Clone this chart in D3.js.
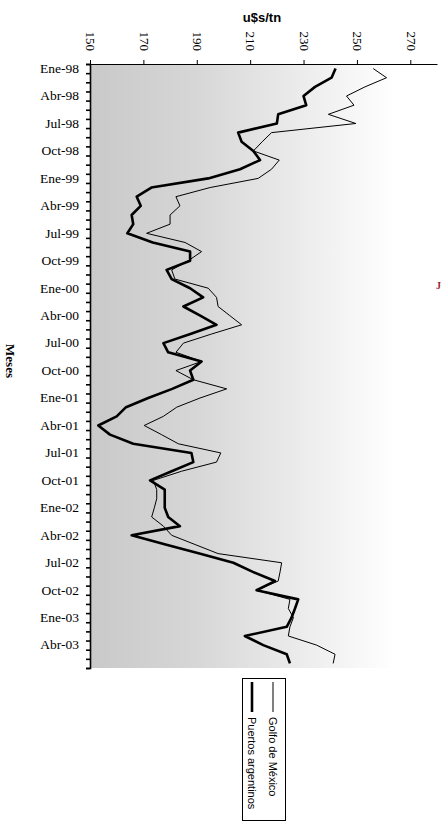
<!DOCTYPE html>
<html>

<head>
  <title>u$s/tn</title>
  <script src="https://cdn.jsdelivr.net/npm/d3@7"></script>
  <style>
    body { margin: 0; background: #fff; }
    .serif { font-family: 'Liberation Serif', 'Times New Roman', serif; }
    .sans { font-family: 'Liberation Sans', Arial, sans-serif; }
  </style>
</head>

<body>
  <svg width="442" height="822" id="mainsvg"></svg>

  <script>
    // meses, de Ene-98 a Jun-03
    const monthNames = ['Ene', 'Feb', 'Mar', 'Abr', 'May', 'Jun', 'Jul', 'Ago', 'Sep', 'Oct', 'Nov', 'Dic'];
    const years = ['98', '99', '00', '01', '02', '03'];
    const months = [];
    years.forEach(yy => monthNames.forEach((m, i) => {
      if (!(yy === '03' && i > 5)) months.push(m + '-' + yy);
    }));

    // Golfo de México (linea fina)
    const golfo = [256.1, 261.1, 253, 246.1, 248.9, 239.3, 249.6, 218, 214.5, 211.2, 220.9, 218,
      213, 195, 182.2, 183.7, 180, 180, 171.2, 185.6, 191.8, 186.8, 180.6, 181.8,
      194.3, 197.4, 198, 202.4, 206.8, 195.6, 185, 182.2, 191.8, 182.2, 188.7, 201.2,
      191.2, 182.5, 177.5, 170.3, 176.8, 183.1, 199, 197.4, 184.3, 173.7, 175, 175,
      174.1, 173.1, 177.5, 180.6, 189.3, 198, 221.8, 221.2, 220.5, 212.4, 224.9, 224.3,
      226.2, 224.9, 224.3, 234.9, 241.8, 241.1];

    // Puertos argentinos (linea gruesa)
    const puertos = [242, 240.5, 234.3, 230, 231, 220.5, 220, 205.5, 206.8, 211.2, 213.7, 206.2,
      194.3, 173, 167.5, 169, 165.6, 166.2, 164, 173.5, 187.5, 187.5, 178.7, 180.6,
      187.5, 192.4, 185, 191.3, 197.4, 187.6, 177.5, 179.3, 191.8, 187.5, 188.7, 180.8,
      171.8, 163.5, 160, 153.1, 157.5, 166.2, 188, 188.7, 180.6, 172.5, 178, 178,
      178, 179.3, 183.7, 165.6, 178.3, 191, 203.7, 211, 219.3, 212.4, 228, 226.8,
      225.5, 223.7, 208, 214.9, 223.7, 224.9];

    const valueTicks = [150, 170, 190, 210, 230, 250, 270];
    const monthTicks = months.filter((m, i) => i % 3 === 0);

    const svg = d3.select('#mainsvg');
    const plot = { left: 90, right: 437, top: 64, bottom: 668 };

    const xScale = d3.scaleLinear().domain([150, 280]).range([plot.left, plot.right]);
    const yScale = d3.scaleBand().domain(months).range([plot.top, plot.bottom]).padding(0);
    const yEdge = d3.scaleLinear().domain([0, months.length]).range([plot.top, plot.bottom]); // bordes de cada mes

    // fondo degradado
    const grad = svg.append('defs').append('linearGradient').attr('id', 'bg')
      .attr('x1', '0%').attr('x2', '100%').attr('y1', '0%').attr('y2', '0%');
    grad.append('stop').attr('offset', '0%').attr('stop-color', '#c9c9c9');
    grad.append('stop').attr('offset', '30%').attr('stop-color', '#d6d6d6');
    grad.append('stop').attr('offset', '88%').attr('stop-color', '#ffffff');
    svg.append('rect').attr('x', plot.left).attr('y', plot.top)
      .attr('width', plot.right - plot.left).attr('height', plot.bottom - plot.top).attr('fill', 'url(#bg)');

    // eje superior (valores)
    const xAxisGroup = svg.append('g').attr('transform', `translate(0, ${plot.top})`)
      .call(d3.axisTop(xScale).tickValues(valueTicks).tickSize(4).tickSizeOuter(0));
    xAxisGroup.attr('font-family', null);
    xAxisGroup.select('.domain').attr('stroke', '#000');
    xAxisGroup.selectAll('.tick text').attr('class', 'serif')
      .attr('font-size', 13).attr('fill', '#000')
      .attr('text-anchor', 'end').attr('dy', '0.32em')
      .attr('transform', 'translate(0, -13) rotate(90)').attr('x', 0).attr('y', 0);

    // eje izquierdo: marcas en cada mes
    const yTickGroup = svg.append('g').attr('transform', `translate(${plot.left}, 0)`)
      .call(d3.axisLeft(yEdge).tickValues(d3.range(months.length + 1)).tickSize(4).tickFormat(''));
    yTickGroup.selectAll('line').attr('stroke-width', 1.6);
    yTickGroup.select('.domain').attr('stroke-width', 1.6);

    // etiquetas cada tres meses
    const yLabelGroup = svg.append('g').attr('transform', `translate(${plot.left}, 0)`)
      .call(d3.axisLeft(yScale).tickValues(monthTicks).tickSize(0).tickPadding(11));
    yLabelGroup.attr('font-family', null);
    yLabelGroup.select('.domain').remove();
    yLabelGroup.selectAll('.tick text').attr('class', 'serif')
      .attr('font-size', 13.5).attr('fill', '#000');

    // lineas
    const yMid = m => yScale(m) + yScale.bandwidth() / 2;
    const line = d3.line().x(d => xScale(d.v)).y(d => yMid(d.m));

    svg.append('path').datum(months.map((m, i) => ({ m: m, v: golfo[i] })))
      .attr('d', line).attr('fill', 'none').attr('stroke', '#000').attr('stroke-width', 1)
      .attr('stroke-linejoin', 'round');
    svg.append('path').datum(months.map((m, i) => ({ m: m, v: puertos[i] })))
      .attr('d', line).attr('fill', 'none').attr('stroke', '#000').attr('stroke-width', 2.6)
      .attr('stroke-linejoin', 'round');

    // titulos de ejes
    svg.append('text').text('u$s/tn').attr('class', 'sans')
      .attr('x', 262).attr('y', 22).attr('text-anchor', 'middle')
      .attr('font-weight', 'bold').attr('font-size', 13);

    svg.append('text').text('Meses').attr('class', 'serif')
      .attr('transform', 'translate(6, 361) rotate(90)').attr('text-anchor', 'middle')
      .attr('font-weight', 'bold').attr('font-size', 13);

    // leyenda (girada)
    const legend = svg.append('g');
    legend.append('rect').attr('x', 242.5).attr('y', 678.5).attr('width', 43).attr('height', 142)
      .attr('fill', '#fff').attr('stroke', '#000').attr('stroke-width', 1);
    const items = [{ name: 'Golfo de México', x: 273, w: 1 }, { name: 'Puertos argentinos', x: 252, w: 2.6 }];
    items.forEach(it => {
      legend.append('line').attr('x1', it.x).attr('x2', it.x).attr('y1', 682).attr('y2', 712)
        .attr('stroke', '#000').attr('stroke-width', it.w);
      legend.append('text').text(it.name).attr('class', 'sans')
        .attr('transform', `translate(${it.x}, 717) rotate(90)`).attr('dy', '0.35em')
        .attr('font-size', 11);
    });

    // marca roja suelta en el borde
    svg.append('text').text('J').attr('class', 'serif').attr('x', 436).attr('y', 289)
      .attr('fill', '#9b1b30').attr('font-size', 10).attr('font-weight', 'bold');
  </script>
</body>

</html>
